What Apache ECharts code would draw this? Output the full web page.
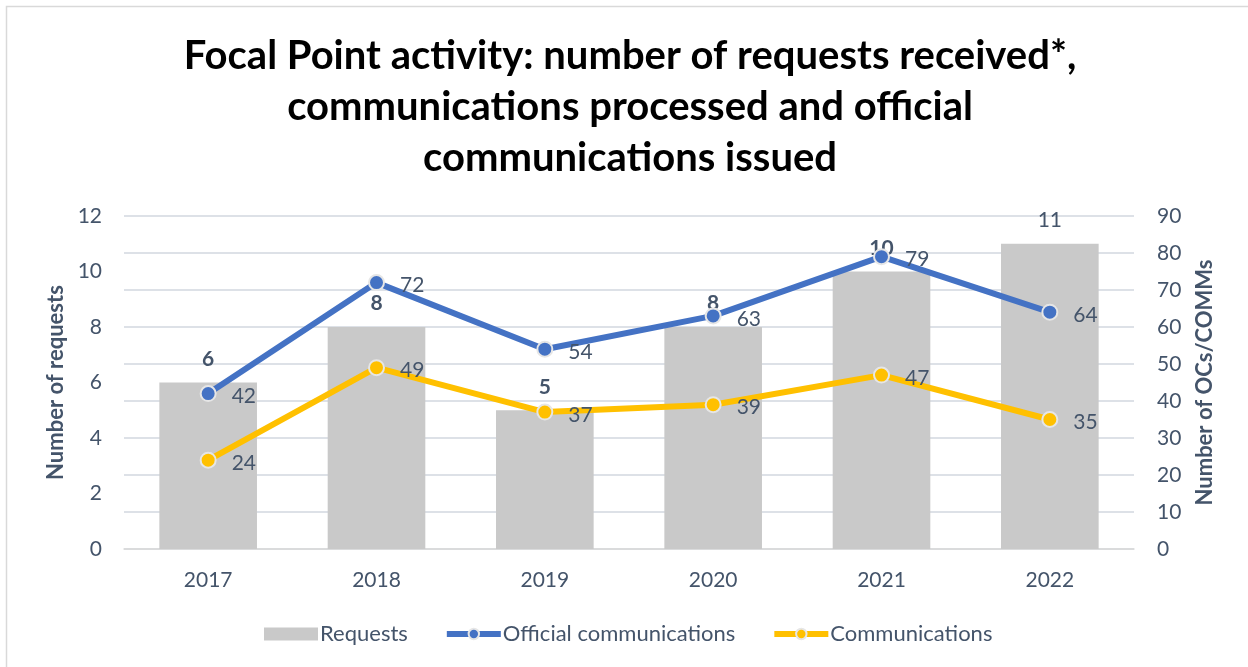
<!DOCTYPE html>
<html>
<head>
<meta charset="utf-8">
<script src="https://cdn.jsdelivr.net/npm/echarts@6/dist/echarts.min.js"></script>
<style>
  html, body { margin: 0; padding: 0; background: #fff; }
  #chart { width: 1248px; height: 667px; }
</style>
</head>
<body>
<div id="chart"></div>
<script>
const years = ['2017', '2018', '2019', '2020', '2021', '2022']
const requests = [6, 8, 5, 8, 10, 11]
const officialComms = [42, 72, 54, 63, 79, 64]
const comms = [24, 49, 37, 39, 47, 35]

const textColor = '#44546A'
const font = 'Lato'

const chart = echarts.init(document.querySelector('#chart'))

const lineLabel = {
    show: true,
    position: 'right',
    distance: 15,
    offset: [0, 3],
    fontFamily: font,
    fontSize: 21,
    color: textColor
}

const option = {
    animation: false,
    textStyle: { fontFamily: font },
    graphic: [{
        type: 'rect',
        shape: { x: 6.5, y: 6.5, width: 1400, height: 800 },
        style: { fill: 'none', stroke: '#d9d9d9', lineWidth: 1.5 },
        silent: true
    }],
    title: {
        text: 'Focal Point activity: number of requests received*,\ncommunications processed and official\ncommunications issued',
        left: 625,
        top: 26,
        textAlign: 'center',
        textStyle: {
            fontFamily: font,
            fontWeight: 'bold',
            fontSize: 40,
            lineHeight: 51,
            color: '#000'
        }
    },
    grid: { left: 124, right: 114, top: 216, bottom: 118 },
    legend: {
        top: 618,
        left: 259,
        itemGap: 36,
        itemWidth: 54,
        itemHeight: 13,
        textStyle: { fontFamily: font, fontSize: 22, color: textColor, padding: [0, 0, 0, -3] },
        data: [
            { name: 'Requests', icon: 'rect', itemStyle: { color: '#C9C9C9' } },
            { name: 'Official communications', lineStyle: { width: 6 } },
            { name: 'Communications', lineStyle: { width: 6 } }
        ]
    },
    xAxis: {
        type: 'category',
        data: years,
        axisLine: { lineStyle: { color: '#d9d9d9', width: 1.5 } },
        axisTick: { show: false },
        axisLabel: { fontFamily: font, fontSize: 21, color: textColor, margin: 21 }
    },
    yAxis: [
        {
            type: 'value',
            min: 0,
            max: 12,
            interval: 2,
            name: 'Number of requests',
            nameLocation: 'middle',
            nameGap: 54,
            nameTextStyle: { fontFamily: font, fontSize: 22, fontWeight: 'bold', color: textColor },
            axisLabel: { fontFamily: font, fontSize: 21, color: textColor, margin: 22 },
            axisLine: { show: false },
            axisTick: { show: false },
            splitLine: { show: false }
        },
        {
            type: 'value',
            min: 0,
            max: 90,
            interval: 10,
            name: 'Number of OCs/COMMs',
            nameLocation: 'middle',
            nameGap: 60,
            nameTextStyle: { fontFamily: font, fontSize: 22, fontWeight: 'bold', color: textColor },
            axisLabel: { fontFamily: font, fontSize: 21, color: textColor, margin: 23 },
            axisLine: { show: false },
            axisTick: { show: false },
            splitLine: { lineStyle: { color: '#dde1e7', width: 2 } }
        }
    ],
    series: [
        {
            name: 'Requests',
            type: 'bar',
            yAxisIndex: 0,
            barWidth: '58%',
            itemStyle: { color: '#C9C9C9' },
            label: {
                show: true,
                position: 'top',
                distance: 13,
                fontFamily: font,
                fontSize: 21,
                color: textColor
            },
            data: requests.map((v, i) => ({
                value: v,
                label: { fontWeight: i < requests.length - 1 ? 'bold' : 'normal' }
            }))
        },
        {
            name: 'Official communications',
            type: 'line',
            yAxisIndex: 1,
            data: officialComms,
            symbol: 'circle',
            symbolSize: 15,
            lineStyle: { color: '#4472C4', width: 6 },
            itemStyle: { color: '#4472C4', borderColor: '#e6e6e6', borderWidth: 2 },
            label: lineLabel
        },
        {
            name: 'Communications',
            type: 'line',
            yAxisIndex: 1,
            data: comms,
            symbol: 'circle',
            symbolSize: 15,
            lineStyle: { color: '#FFC000', width: 6 },
            itemStyle: { color: '#FFC000', borderColor: '#e6e6e6', borderWidth: 2 },
            label: lineLabel
        }
    ]
}

chart.setOption(option)
</script>
</body>
</html>
